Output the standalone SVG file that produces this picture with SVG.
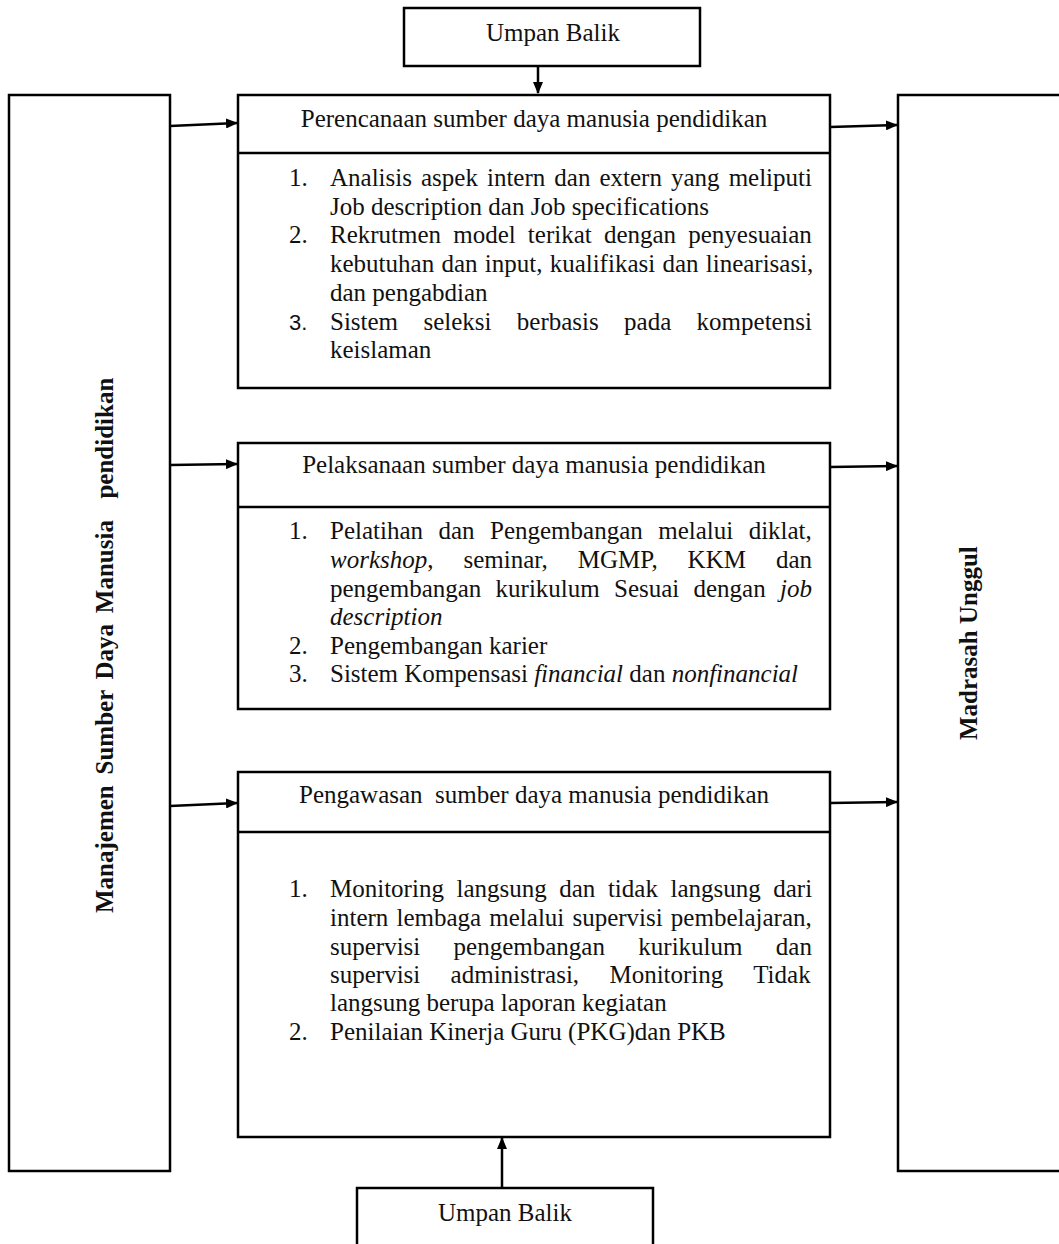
<svg xmlns="http://www.w3.org/2000/svg" width="1059" height="1244" viewBox="0 0 1059 1244">
  <style>
    .box { fill: #fff; stroke: #000; stroke-width: 2.5; }
    .div { stroke: #000; stroke-width: 2.5; }
    .t { font-family: "Liberation Serif", "Times New Roman", serif; font-size: 25px; fill: #111; }
    .h { text-anchor: middle; }
    .b { font-weight: bold; }
    .i { font-style: italic; }
    .num3 { font-family: "Liberation Sans", Arial, sans-serif; font-size: 22px; }
    .conn { stroke: #000; stroke-width: 2.5; fill: none; marker-end: url(#arr); }
  </style>
  <defs>
    <marker id="arr" markerWidth="12" markerHeight="10" refX="11" refY="5" orient="auto" markerUnits="userSpaceOnUse">
      <path d="M0,0 L12,5 L0,10 Z" fill="#000"/>
    </marker>
  </defs>
  <rect width="1059" height="1244" fill="#fff"/>

  <!-- outer left column -->
  <g id="node-manajemen">
    <rect class="box" x="9" y="95" width="161" height="1076"/>
    <text class="t b" font-size="28" word-spacing="4.5" transform="translate(113,913) rotate(-90)">Manajemen Sumber Daya Manusia&#160; pendidikan</text>
  </g>

  <!-- outer right column -->
  <g id="node-madrasah">
    <rect class="box" x="898" y="95" width="200" height="1076"/>
    <text class="t b" font-size="24" transform="translate(977,740) rotate(-90)">Madrasah Unggul</text>
  </g>

  <!-- feedback, top -->
  <g id="node-umpan-top">
    <rect class="box" x="404" y="8" width="296" height="58"/>
    <text class="t h" x="553" y="41">Umpan Balik</text>
  </g>

  <!-- feedback, bottom -->
  <g id="node-umpan-bottom">
    <rect class="box" x="357" y="1188" width="296" height="80"/>
    <text class="t h" x="505" y="1221">Umpan Balik</text>
  </g>

  <!-- planning -->
  <g id="node-perencanaan">
    <rect class="box" x="238" y="95" width="592" height="293"/>
    <line class="div" x1="238" y1="153" x2="830" y2="153"/>
    <text class="t h" x="534" y="127">Perencanaan sumber daya manusia pendidikan</text>
    <text class="t" x="289" y="186">1.</text>
    <text class="t" x="330" y="186" word-spacing="2.8">Analisis aspek intern dan extern yang meliputi</text>
    <text class="t" x="330" y="215">Job description dan Job specifications</text>
    <text class="t" x="289" y="243">2.</text>
    <text class="t" x="330" y="243" word-spacing="5.9">Rekrutmen model terikat dengan penyesuaian</text>
    <text class="t" x="330" y="272" word-spacing="1">kebutuhan dan input, kualifikasi dan linearisasi,</text>
    <text class="t" x="330" y="301">dan pengabdian</text>
    <text class="t num3" x="289" y="330">3.</text>
    <text class="t" x="330" y="330" word-spacing="19.1">Sistem seleksi berbasis pada kompetensi</text>
    <text class="t" x="330" y="358">keislaman</text>
  </g>

  <!-- implementation -->
  <g id="node-pelaksanaan">
    <rect class="box" x="238" y="443" width="592" height="266"/>
    <line class="div" x1="238" y1="507" x2="830" y2="507"/>
    <text class="t h" x="534" y="473">Pelaksanaan sumber daya manusia pendidikan</text>
    <text class="t" x="289" y="539">1.</text>
    <text class="t" x="330" y="539" word-spacing="9.2">Pelatihan dan Pengembangan melalui diklat,</text>
    <text class="t" x="330" y="568" word-spacing="23.7"><tspan class="i">workshop</tspan>, seminar, MGMP, KKM dan</text>
    <text class="t" x="330" y="597" word-spacing="8">pengembangan kurikulum Sesuai dengan <tspan class="i">job</tspan></text>
    <text class="t i" x="330" y="625">description</text>
    <text class="t" x="289" y="654">2.</text>
    <text class="t" x="330" y="654">Pengembangan karier</text>
    <text class="t" x="289" y="682">3.</text>
    <text class="t" x="330" y="682">Sistem Kompensasi <tspan class="i">financial</tspan> dan <tspan class="i">nonfinancial</tspan></text>
  </g>

  <!-- supervision -->
  <g id="node-pengawasan">
    <rect class="box" x="238" y="772" width="592" height="365"/>
    <line class="div" x1="238" y1="832" x2="830" y2="832"/>
    <text class="t h" x="534" y="803">Pengawasan&#160; sumber daya manusia pendidikan</text>
    <text class="t" x="289" y="897">1.</text>
    <text class="t" x="330" y="897" word-spacing="6.3">Monitoring langsung dan tidak langsung dari</text>
    <text class="t" x="330" y="926" word-spacing="1.9">intern lembaga melalui supervisi pembelajaran,</text>
    <text class="t" x="330" y="955" word-spacing="27.1">supervisi pengembangan kurikulum dan</text>
    <text class="t" x="330" y="983" word-spacing="24.1">supervisi administrasi, Monitoring Tidak</text>
    <text class="t" x="330" y="1011">langsung berupa laporan kegiatan</text>
    <text class="t" x="289" y="1040">2.</text>
    <text class="t" x="330" y="1040">Penilaian Kinerja Guru (PKG)dan PKB</text>
  </g>

  <!-- connectors -->
  <g id="connectors">
    <line class="conn" x1="538" y1="66" x2="538" y2="93"/>
    <line class="conn" x1="502" y1="1188" x2="502" y2="1138"/>
    <line class="conn" x1="170" y1="126" x2="237" y2="123"/>
    <line class="conn" x1="170" y1="465" x2="237" y2="464"/>
    <line class="conn" x1="170" y1="806" x2="237" y2="803"/>
    <line class="conn" x1="830" y1="127" x2="897" y2="125"/>
    <line class="conn" x1="830" y1="467" x2="897" y2="466"/>
    <line class="conn" x1="830" y1="803" x2="897" y2="802"/>
  </g>
</svg>
